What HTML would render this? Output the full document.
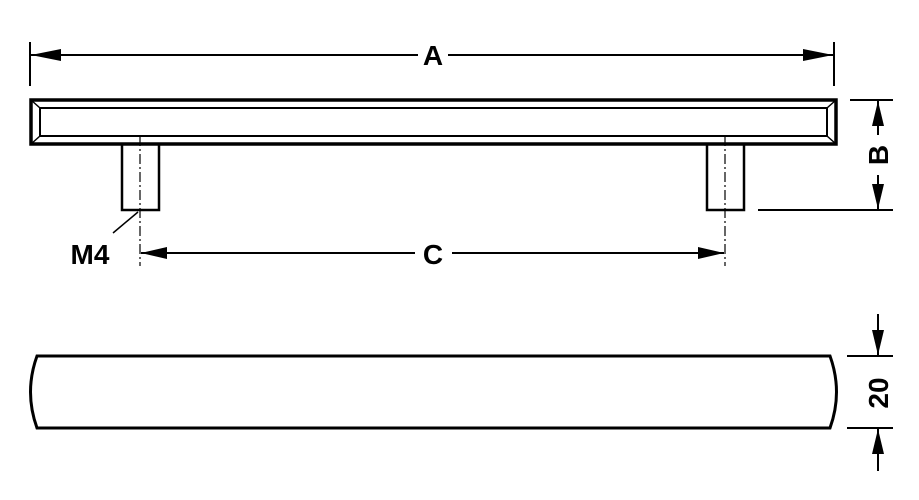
<!DOCTYPE html>
<html><head><style>body{margin:0;background:#fff}svg{display:block}</style></head><body>
<svg width="919" height="500" xmlns="http://www.w3.org/2000/svg" font-family="Liberation Sans, sans-serif" font-weight="bold">
<g stroke="#000" fill="none">
<line x1="30" y1="42" x2="30" y2="86" stroke-width="2"/>
<line x1="834" y1="42" x2="834" y2="86" stroke-width="2"/>
<line x1="31" y1="55" x2="418" y2="55" stroke-width="2"/>
<line x1="448" y1="55" x2="833" y2="55" stroke-width="2"/>
<rect x="31" y="100" width="805" height="44" stroke-width="3.5"/>
<rect x="40" y="108" width="787" height="28" stroke-width="2"/>
<line x1="31" y1="100" x2="40" y2="108" stroke-width="1.5"/>
<line x1="31" y1="144" x2="40" y2="136" stroke-width="1.5"/>
<line x1="836" y1="100" x2="827" y2="108" stroke-width="1.5"/>
<line x1="836" y1="144" x2="827" y2="136" stroke-width="1.5"/>
<rect x="122" y="144" width="37" height="66" stroke-width="2.5"/>
<rect x="707" y="144" width="37" height="66" stroke-width="2.5"/>
<line x1="140" y1="136" x2="140" y2="266" stroke-width="1.2" stroke-dasharray="10,3,2,3"/>
<line x1="725" y1="136" x2="725" y2="266" stroke-width="1.2" stroke-dasharray="10,3,2,3"/>
<line x1="113" y1="233" x2="138" y2="212" stroke-width="1.5"/>
<line x1="141" y1="253" x2="415" y2="253" stroke-width="2"/>
<line x1="452" y1="253" x2="724" y2="253" stroke-width="2"/>
<line x1="850" y1="100" x2="893" y2="100" stroke-width="2"/>
<line x1="758" y1="210" x2="893" y2="210" stroke-width="2"/>
<line x1="878" y1="101" x2="878" y2="135" stroke-width="2"/>
<line x1="878" y1="175" x2="878" y2="209" stroke-width="2"/>
<path d="M37 356 L830 356 Q843 392 830 428 L37 428 Q24 392 37 356 Z" stroke-width="3"/>
<line x1="847" y1="356" x2="893" y2="356" stroke-width="2"/>
<line x1="847" y1="428" x2="893" y2="428" stroke-width="2"/>
<line x1="878" y1="314" x2="878" y2="355" stroke-width="2"/>
<line x1="878" y1="429" x2="878" y2="471" stroke-width="2"/>
</g>
<g fill="#000">
<polygon points="31,55 61,49 61,61"/>
<polygon points="833,55 803,49 803,61"/>
<polygon points="141,253 167,247 167,259"/>
<polygon points="724,253 698,247 698,259"/>
<polygon points="878,101 872,126 884,126"/>
<polygon points="878,209 872,184 884,184"/>
<polygon points="878,355 872,330 884,330"/>
<polygon points="878,429 872,454 884,454"/>
</g>
<text x="433" y="65" font-size="28" text-anchor="middle">A</text>
<text x="433" y="264" font-size="28" text-anchor="middle">C</text>
<text x="90" y="264" font-size="28" text-anchor="middle">M4</text>
<text transform="translate(888,155) rotate(-90)" font-size="28" text-anchor="middle">B</text>
<text transform="translate(888,393) rotate(-90)" font-size="28" text-anchor="middle">20</text>
</svg>
</body></html>
